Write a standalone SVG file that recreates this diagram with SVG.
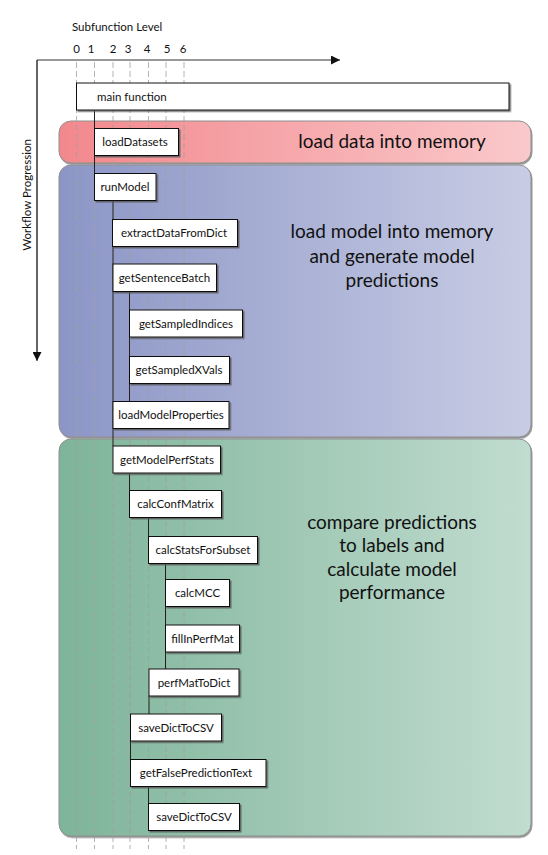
<svg xmlns="http://www.w3.org/2000/svg" width="548" height="855" viewBox="0 0 548 855">
<style>
.lbl{font-family:Lato,"Open Sans","Liberation Sans",sans-serif;font-size:11.5px;fill:#111}
.band{font-family:Lato,"Open Sans","Liberation Sans",sans-serif;font-size:19px;fill:#111;text-anchor:middle}
.box{fill:#fff;stroke:#111;stroke-width:1;filter:url(#sh)}
.guide{stroke:#a0a0a0;stroke-width:0.8;stroke-dasharray:6 3;fill:none}
.conn{stroke:#222;stroke-width:1;fill:none}
.axis{stroke:#333;stroke-width:1;fill:none}
.bnd{stroke:#8f8f8f;stroke-width:1;filter:url(#bsh)}
.fn text{text-anchor:middle}
</style>
<defs>
<linearGradient id="gp" x1="0" x2="1" y1="0" y2="0"><stop offset="0" stop-color="#f2888d"/><stop offset="1" stop-color="#fac9cb"/></linearGradient>
<linearGradient id="gb" x1="0" x2="1" y1="0" y2="0"><stop offset="0" stop-color="#8c96c6"/><stop offset="1" stop-color="#c8cce4"/></linearGradient>
<linearGradient id="gg" x1="0" x2="1" y1="0" y2="0"><stop offset="0" stop-color="#7eb499"/><stop offset="1" stop-color="#c1dcd0"/></linearGradient>
<filter id="sh" x="-5%" y="-10%" width="115%" height="130%"><feDropShadow dx="1.5" dy="1.5" stdDeviation="0.4" flood-color="#555" flood-opacity="0.8"/></filter>
<filter id="bsh" x="-5%" y="-5%" width="115%" height="115%"><feDropShadow dx="1" dy="1.5" stdDeviation="0.6" flood-color="#666" flood-opacity="0.7"/></filter>
<marker id="ah" viewBox="0 0 10 10" refX="10" refY="5" markerWidth="9" markerHeight="9" markerUnits="userSpaceOnUse" orient="auto"><path d="M0,0 L10,5 L0,10 z" fill="#111"/></marker>
</defs>

<g id="axes">
<path class="axis" d="M37,360 L37,60 L340,60" marker-end="url(#ah)"/>
<path class="axis" d="M37,60 L37,361" marker-end="url(#ah)"/>
<text class="lbl" x="72" y="31">Subfunction Level</text>
<g class="lbl" text-anchor="middle">
<text x="76.5" y="53">0</text><text x="91" y="53">1</text><text x="113" y="53">2</text><text x="128" y="53">3</text><text x="147" y="53">4</text><text x="167" y="53">5</text><text x="183" y="53">6</text>
</g>
<text class="lbl" transform="translate(31,195) rotate(-90)" text-anchor="middle">Workflow Progression</text>
</g>

<g id="band-load-data"><rect class="bnd" x="59" y="121" width="472" height="42" rx="12" fill="url(#gp)"/><text class="band" x="392" y="148">load data into memory</text></g>
<g id="band-model"><rect class="bnd" x="59" y="165" width="472" height="272" rx="12" fill="url(#gb)"/><text class="band" x="392" y="238">load model into memory</text><text class="band" x="392" y="262.5">and generate model</text><text class="band" x="392" y="287">predictions</text></g>
<g id="band-perf"><rect class="bnd" x="59" y="439" width="472" height="397" rx="12" fill="url(#gg)"/><text class="band" x="392" y="528.5">compare predictions</text><text class="band" x="392" y="552">to labels and</text><text class="band" x="392" y="575.5">calculate model</text><text class="band" x="392" y="599">performance</text></g>

<g id="guides">
<path class="guide" d="M76.5,62V849M94.5,62V849M113,62V849M130,62V849M148.5,62V849M166,62V849M184,62V849"/>
</g>

<g id="connectors">
<path class="conn" d="M94.5,110V173.5M113,200.5V446M129.5,291.5V401.5M129.5,473V490.5M148.5,517.5V536.5M165.5,563.5V669M149,696V714M130.5,741V759.5M148.5,786.5V803.5"/>
</g>

<g id="n-main"><rect class="box" x="76.5" y="83" width="432.5" height="27"/><text class="lbl" x="97" y="101">main function</text></g>
<g class="fn">
<g id="n-loadDatasets"><rect class="box" x="94.5" y="128.5" width="84" height="27"/><text class="lbl" x="135" y="146">loadDatasets</text></g>
<g id="n-runModel"><rect class="box" x="94.5" y="173.5" width="61.5" height="27"/><text class="lbl" x="125" y="191">runModel</text></g>
<g id="n-extractDataFromDict"><rect class="box" x="112.5" y="219.5" width="125" height="27"/><text class="lbl" x="174" y="237">extractDataFromDict</text></g>
<g id="n-getSentenceBatch"><rect class="box" x="113" y="264" width="103.5" height="27.5"/><text class="lbl" x="164.5" y="281.5">getSentenceBatch</text></g>
<g id="n-getSampledIndices"><rect class="box" x="129.5" y="310" width="113" height="27"/><text class="lbl" x="186" y="327.5">getSampledIndices</text></g>
<g id="n-getSampledXVals"><rect class="box" x="129.5" y="356.5" width="100" height="27"/><text class="lbl" x="179" y="374">getSampledXVals</text></g>
<g id="n-loadModelProperties"><rect class="box" x="113" y="401.5" width="116" height="27"/><text class="lbl" x="171" y="419">loadModelProperties</text></g>
<g id="n-getModelPerfStats"><rect class="box" x="113" y="446" width="107.5" height="27"/><text class="lbl" x="167" y="463.5">getModelPerfStats</text></g>
<g id="n-calcConfMatrix"><rect class="box" x="129.5" y="490.5" width="92" height="27"/><text class="lbl" x="175.5" y="508">calcConfMatrix</text></g>
<g id="n-calcStatsForSubset"><rect class="box" x="148.5" y="536.5" width="109" height="27"/><text class="lbl" x="203" y="554">calcStatsForSubset</text></g>
<g id="n-calcMCC"><rect class="box" x="165.5" y="579.5" width="64" height="27"/><text class="lbl" x="197.5" y="597">calcMCC</text></g>
<g id="n-fillInPerfMat"><rect class="box" x="165.5" y="625" width="74" height="27"/><text class="lbl" x="202.5" y="642.5">fillInPerfMat</text></g>
<g id="n-perfMatToDict"><rect class="box" x="149" y="669" width="90" height="27"/><text class="lbl" x="194" y="686.5">perfMatToDict</text></g>
<g id="n-saveDictToCSV-1"><rect class="box" x="130.5" y="714" width="91" height="27"/><text class="lbl" x="176" y="731.5">saveDictToCSV</text></g>
<g id="n-getFalsePredictionText"><rect class="box" x="130.5" y="759.5" width="135.5" height="27"/><text class="lbl" x="196" y="777">getFalsePredictionText</text></g>
<g id="n-saveDictToCSV-2"><rect class="box" x="148.5" y="803.5" width="91" height="27"/><text class="lbl" x="194" y="821">saveDictToCSV</text></g>
</g>
</svg>
